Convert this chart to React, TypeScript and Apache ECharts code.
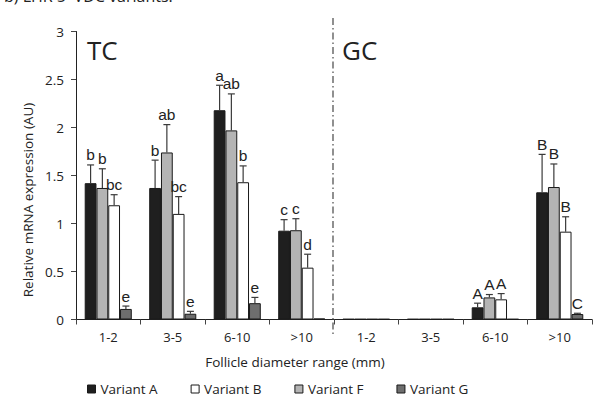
import React, { useEffect, useRef } from "react";
import * as echarts from "echarts";

const categories = ["1-2", "3-5", "6-10", ">10", "1-2", "3-5", "6-10", ">10"];
const yTicks = [0, 0.5, 1, 1.5, 2, 2.5, 3];

// bar order within each group: A, F, B, G
const variantNames = ["Variant A", "Variant F", "Variant B", "Variant G"];
const legendOrder = ["Variant A", "Variant B", "Variant F", "Variant G"];

const variantA = [1.42, 1.37, 2.18, 0.925, 0.005, 0.005, 0.127, 1.325];
const variantF = [1.37, 1.74, 1.97, 0.93, 0.005, 0.005, 0.23, 1.38];
const variantB = [1.19, 1.1, 1.43, 0.54, 0.005, 0.005, 0.21, 0.915];
const variantG = [0.11, 0.06, 0.17, 0.01, 0.005, 0.005, 0.005, 0.057];

const errTopA = [1.61, 1.66, 2.44, 1.04, null, null, 0.17, 1.72];
const errTopF = [1.57, 2.03, 2.35, 1.05, null, null, 0.26, 1.62];
const errTopB = [1.3, 1.28, 1.6, 0.68, null, null, 0.27, 1.07];
const errTopG = [0.14, 0.085, 0.23, null, null, null, null, 0.065];

const lettersA = ["b", "b", "a", "c", "", "", "A", "B"];
const lettersF = ["b", "ab", "ab", "c", "", "", "A", "B"];
const lettersB = ["bc", "bc", "b", "d", "", "", "A", "B"];
const lettersG = ["e", "e", "e", "", "", "", "", "C"];

const groupLabels = ["TC", "GC"];
const titleText = "b) LHR 5' VDC variants:";
const yName = "Relative mRNA expression (AU)";
const xName = "Follicle diameter range (mm)";

const values = [variantA, variantF, variantB, variantG];
const errTops = [errTopA, errTopF, errTopB, errTopG];
const letters = [lettersA, lettersF, lettersB, lettersG];
const fills = ["#1f1f1f", "#b4b4b4", "#ffffff", "#6e6e6e"];

const FONT = "'Open Sans', sans-serif";
const LETTER_FONT = "'Liberation Sans', Arial, sans-serif";
const CAT_GAP = 0.27;

export default function App() {
  const ref = useRef<HTMLDivElement>(null);
  useEffect(() => {
    if (!ref.current) return;
    const chart = echarts.init(ref.current, undefined, { renderer: "svg" });

    const barSeries = variantNames.map((name, k) => ({
      name,
      type: "bar",
      data: values[k],
      barGap: "0%",
      barCategoryGap: CAT_GAP * 100 + "%",
      itemStyle: { color: fills[k], borderColor: "#1a1a1a", borderWidth: 1 },
      z: 2,
    }));

    const errSeries = variantNames.map((name, k) => ({
      name: name + " err",
      type: "custom",
      z: 3,
      data: categories.map((_, i) => [i, values[k][i], errTops[k][i] == null ? values[k][i] : errTops[k][i], letters[k][i]]),
      renderItem: (params: any, api: any) => {
        const ci = api.value(0);
        const v = api.value(1);
        const top = api.value(2);
        const idx = params.dataIndex;
        const label = letters[k][idx];
        const hasErr = errTops[k][idx] != null;
        const band = api.size([1, 0])[0];
        const bw = (band * (1 - CAT_GAP)) / 4;
        const off = (k - 1.5) * bw;
        const base = api.coord([ci, v]);
        const tp = api.coord([ci, top]);
        const x = base[0] + off;
        const children: any[] = [];
        if (hasErr) {
          children.push({
            type: "line",
            shape: { x1: x, y1: base[1], x2: x, y2: tp[1] },
            style: { stroke: "#3a3a3a", lineWidth: 1.2 },
          });
          children.push({
            type: "line",
            shape: { x1: x - 3.5, y1: tp[1], x2: x + 3.5, y2: tp[1] },
            style: { stroke: "#3a3a3a", lineWidth: 1.2 },
          });
        }
        if (label) {
          children.push({
            type: "text",
            style: {
              text: label,
              x: x,
              y: tp[1] - 2,
              align: "center",
              verticalAlign: "bottom",
              font: "15.5px " + LETTER_FONT,
              fill: "#222",
            },
          });
        }
        return { type: "group", children };
      },
    }));

    chart.setOption({
      animation: false,
      grid: { left: 76, right: 3, top: 31.5, bottom: 81.5 },
      legend: {
        data: legendOrder,
        left: 82,
        top: 377,
        icon: "rect",
        itemWidth: 8,
        itemHeight: 8,
        itemGap: 33,
        textStyle: { fontFamily: FONT, fontSize: 13.5, color: "#222" },
        itemStyle: { borderColor: "#1a1a1a", borderWidth: 1 },
      },
      xAxis: {
        type: "category",
        data: categories,
        axisLine: { lineStyle: { color: "#222", width: 1 } },
        axisTick: { show: true, length: 5, lineStyle: { color: "#444" } },
        axisLabel: { fontFamily: FONT, fontSize: 13, color: "#222", margin: 11 },
      },
      yAxis: {
        type: "value",
        min: 0,
        max: 3,
        interval: 0.5,
        splitLine: { show: false },
        axisLine: { show: true, lineStyle: { color: "#222", width: 1 } },
        axisTick: { show: true, length: 5, lineStyle: { color: "#444" } },
        axisLabel: {
          fontFamily: FONT,
          fontSize: 13.5,
          color: "#222",
          margin: 12,
          formatter: (val: number) => (yTicks.includes(val) ? String(val) : ""),
        },
      },
      graphic: [
        {
          type: "text",
          left: 4,
          top: -12,
          style: { text: titleText, font: "16px " + FONT, fill: "#222" },
        },
        {
          type: "text",
          left: 87,
          top: 37,
          style: { text: groupLabels[0], font: "26px " + FONT, fill: "#222" },
        },
        {
          type: "text",
          left: 342,
          top: 37,
          style: { text: groupLabels[1], font: "26px " + FONT, fill: "#222" },
        },
        {
          type: "text",
          x: 28,
          y: 200,
          rotation: Math.PI / 2,
          style: {
            text: yName,
            font: "13.5px " + FONT,
            fill: "#222",
            align: "center",
            verticalAlign: "middle",
          },
        },
        {
          type: "text",
          x: 295,
          y: 362,
          style: {
            text: xName,
            font: "13.5px " + FONT,
            fill: "#222",
            align: "center",
            verticalAlign: "middle",
          },
        },
        {
          type: "line",
          shape: { x1: 333, y1: 18, x2: 333, y2: 337 },
          style: { stroke: "#555", lineWidth: 1.3, lineDash: [7, 3, 1.5, 3] },
          z: 10,
        },
      ],
      series: [...barSeries, ...errSeries],
    });
    return () => chart.dispose();
  }, []);
  return (
    <div
      ref={ref}
      style={{ position: "absolute", left: 0, top: 0, width: 595, height: 401, background: "#fff" }}
    />
  );
}
